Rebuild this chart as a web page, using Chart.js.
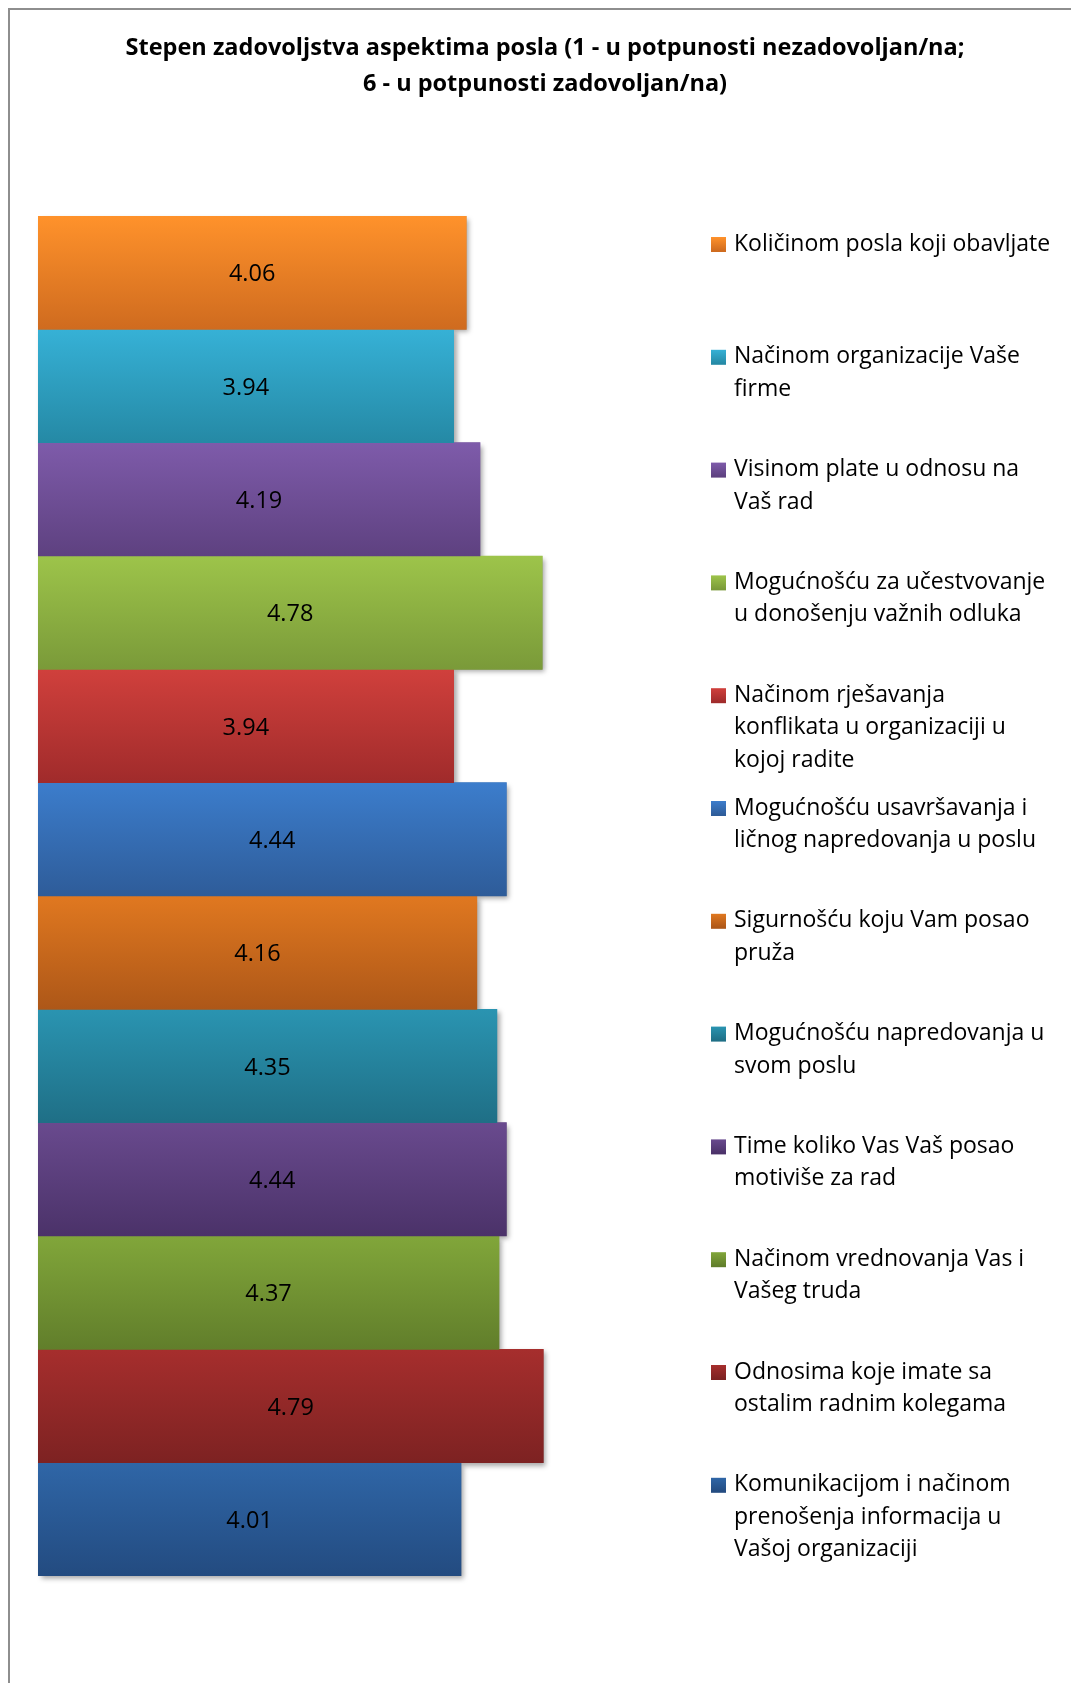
<!DOCTYPE html>
<html>
<head>
<meta charset="utf-8">
<script src="https://cdn.jsdelivr.net/npm/chart.js@4"></script>
<style>
    html, body { margin: 0; padding: 0; background: #fff; }
    #wrap { position: relative; width: 1071px; height: 1683px; }
</style>
</head>
<body>
<div id="wrap"><canvas id="chart"></canvas></div>
<script>
// ---- data -------------------------------------------------------------------------------------------------------
const TITLE_LINES = [
    'Stepen zadovoljstva aspektima posla (1 - u potpunosti nezadovoljan/na;',
    '6 - u potpunosti zadovoljan/na)'
];
const CATEGORY = ['Aspekti'];
const SERIES_LABELS = [
    ['Količinom posla koji obavljate'],
    ['Načinom organizacije Vaše', 'firme'],
    ['Visinom plate u odnosu na', 'Vaš rad'],
    ['Mogućnošću za učestvovanje', 'u donošenju važnih odluka'],
    ['Načinom rješavanja', 'konflikata u organizaciji u', 'kojoj radite'],
    ['Mogućnošću usavršavanja i', 'ličnog napredovanja u poslu'],
    ['Sigurnošću koju Vam posao', 'pruža'],
    ['Mogućnošću napredovanja u', 'svom poslu'],
    ['Time koliko Vas Vaš posao', 'motiviše za rad'],
    ['Načinom vrednovanja Vas i', 'Vašeg truda'],
    ['Odnosima koje imate sa', 'ostalim radnim kolegama'],
    ['Komunikacijom i načinom', 'prenošenja informacija u', 'Vašoj organizaciji']
];
const SERIES_VALUES = [4.06, 3.94, 4.19, 4.78, 3.94, 4.44, 4.16, 4.35, 4.44, 4.37, 4.79, 4.01];
// gradient top / bottom colour per series
const COLORS_TOP = ['#ff922b', '#36b1d6', '#7e5baa', '#9dc44a', '#d0403c', '#3c7dcc',
                    '#e07820', '#2a94b1', '#694a8e', '#81a63a', '#a62e2d', '#2f66a7'];
const COLORS_BOTTOM = ['#cf6b1f', '#2589a5', '#5e4180', '#7a9a39', '#a02b2b', '#2e5c99',
                       '#ad5718', '#1f6f86', '#4b3269', '#617e2b', '#7d2222', '#234b80'];

const LEGEND_X = 711;
const LEGEND_Y0 = 244;
const LEGEND_STEP = 112.8;
const LEGEND_LINE = 32.5;

// ---- plugins ----------------------------------------------------------------------------------------------------
const frame_plugin = {
    id: 'frame',
    beforeDraw: (chart) => {
        const {ctx} = chart;
        ctx.save();
        ctx.fillStyle = '#fff';
        ctx.fillRect(0, 0, chart.width, chart.height);
        ctx.strokeStyle = '#8e8e8e';
        ctx.lineWidth = 2;
        ctx.beginPath();
        ctx.moveTo(9, chart.height);
        ctx.lineTo(9, 9);
        ctx.lineTo(chart.width, 9);
        ctx.stroke();
        // title
        ctx.fillStyle = '#000';
        ctx.font = 'bold 23.5px "Open Sans"';
        ctx.textAlign = 'center';
        ctx.textBaseline = 'middle';
        ctx.fillText(TITLE_LINES[0], 545, 48);
        ctx.fillText(TITLE_LINES[1], 545, 84);
        ctx.restore();
    }
};

// gradient fill + soft shadow under the bars
const bar_style_plugin = {
    id: 'barStyle',
    beforeDatasetsDraw: (chart) => {
        const {ctx} = chart;
        ctx.save();
        chart.data.datasets.forEach((ds, i) => {
            const meta = chart.getDatasetMeta(i);
            meta.data.forEach(el => {
                const top = el.y - el.height / 2;
                const bottom = el.y + el.height / 2;
                const g = ctx.createLinearGradient(0, top, 0, bottom);
                g.addColorStop(0, COLORS_TOP[i]);
                g.addColorStop(1, COLORS_BOTTOM[i]);
                el.options.backgroundColor = g;
                ctx.shadowColor = 'rgba(0,0,0,0.35)';
                ctx.shadowBlur = 5;
                ctx.shadowOffsetX = 3;
                ctx.shadowOffsetY = 3;
                ctx.fillStyle = '#888';
                ctx.fillRect(Math.min(el.base, el.x), top, Math.abs(el.x - el.base), el.height);
            });
        });
        ctx.restore();
    },
    afterDatasetsDraw: (chart) => {
        const {ctx} = chart;
        ctx.save();
        ctx.fillStyle = '#000';
        ctx.font = '23.5px "Open Sans"';
        ctx.textAlign = 'center';
        ctx.textBaseline = 'middle';
        chart.data.datasets.forEach((ds, i) => {
            const meta = chart.getDatasetMeta(i);
            meta.data.forEach((el, j) => {
                ctx.fillText(ds.data[j].toFixed(2), (el.x + el.base) / 2, el.y + 2);
            });
        });
        ctx.restore();
    }
};

const side_legend_plugin = {
    id: 'sideLegend',
    afterDraw: (chart) => {
        const {ctx} = chart;
        ctx.save();
        ctx.font = '23px "Open Sans"';
        ctx.textAlign = 'left';
        ctx.textBaseline = 'middle';
        chart.data.datasets.forEach((ds, i) => {
            const y = LEGEND_Y0 + i * LEGEND_STEP;
            const g = ctx.createLinearGradient(0, y - 7, 0, y + 7);
            g.addColorStop(0, COLORS_TOP[i]);
            g.addColorStop(1, COLORS_BOTTOM[i]);
            ctx.fillStyle = g;
            ctx.fillRect(LEGEND_X, y - 7, 15, 15);
            ctx.fillStyle = '#000';
            SERIES_LABELS[i].forEach((line, k) => {
                ctx.fillText(line, LEGEND_X + 23, y + k * LEGEND_LINE);
            });
        });
        ctx.restore();
    }
};

// ---- chart ------------------------------------------------------------------------------------------------------
const ctx = document.getElementById('chart').getContext('2d');
new Chart(ctx, {
    type: 'bar',
    data: {
        labels: CATEGORY,
        datasets: SERIES_VALUES.map((v, i) => ({
            label: SERIES_LABELS[i].join(' '),
            data: [v],
            backgroundColor: COLORS_TOP[i],
            borderWidth: 0,
            categoryPercentage: 1,
            barPercentage: 1,
        }))
    },
    options: {
        indexAxis: 'y',
        responsive: true,
        maintainAspectRatio: false,
        animation: false,
        layout: {
            padding: {left: 38, right: 400, top: 216, bottom: 107}
        },
        scales: {
            x: {display: false, min: 0, max: 6},
            y: {display: false}
        },
        plugins: {
            legend: {display: false},
            title: {display: false},
            tooltip: {enabled: false}
        }
    },
    plugins: [frame_plugin, bar_style_plugin, side_legend_plugin]
});
</script>
</body>
</html>
